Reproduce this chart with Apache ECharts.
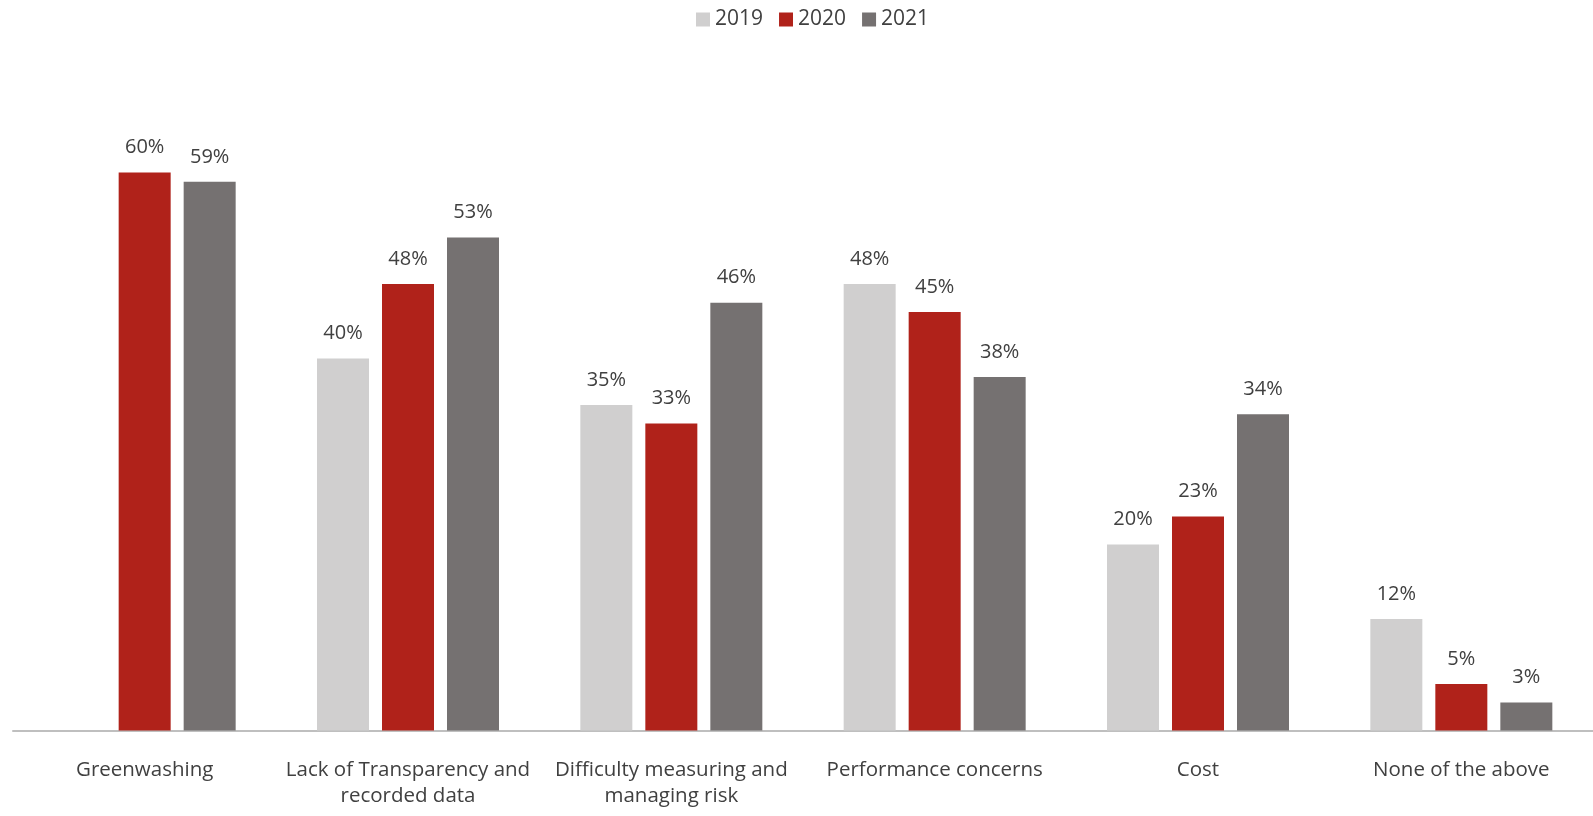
<!DOCTYPE html>
<html><head><meta charset="utf-8">
<script src="https://cdn.jsdelivr.net/npm/echarts@6/dist/echarts.min.js"></script>
<style>html,body{margin:0;padding:0;background:#fff}#c{width:1593px;height:816px}</style>
</head><body><div id="c"></div>
<script>
const categories = ["Greenwashing", "Lack of Transparency and\nrecorded data", "Difficulty measuring and\nmanaging risk", "Performance concerns", "Cost", "None of the above"];
const seriesNames = ["2019", "2020", "2021"];
const values2019 = [null, 40, 35, 48, 20, 12];
const values2020 = [60, 48, 33, 45, 23, 5];
const values2021 = [59, 53, 46, 38, 34, 3];
const colors = ["#d0cfcf", "#b0221a", "#757171"];
const font = "'Open Sans', sans-serif";
const chart = echarts.init(document.getElementById('c'));
const mk = (name, data, i) => ({
  name, type: 'bar', data, barWidth: 52, barGap: '25%',
  itemStyle: { color: colors[i] },
  label: { show: true, position: 'top', distance: 15, formatter: p => p.value + '%', color: '#404040', fontSize: 20, fontFamily: font },
  animation: false
});
chart.setOption({
  animation: false,
  legend: { top: 4, left: 691, itemWidth: 14, itemHeight: 14, itemGap: 16, icon: 'rect',
    textStyle: { color: '#404040', fontSize: 21, fontFamily: font }, data: seriesNames },
  grid: { left: 13, right: 0, top: 79.5, bottom: 85.5, containLabel: false },
  xAxis: { type: 'category', data: categories,
    axisLine: { lineStyle: { color: '#bfbfbf', width: 2 } }, axisTick: { show: false },
    axisLabel: { color: '#404040', fontSize: 20.5, fontFamily: font, margin: 27, lineHeight: 26, interval: 0 } },
  yAxis: { type: 'value', min: 0, max: 70, show: false, splitLine: { show: false } },
  series: [mk(seriesNames[0], values2019, 0), mk(seriesNames[1], values2020, 1), mk(seriesNames[2], values2021, 2)]
});
</script></body></html>
